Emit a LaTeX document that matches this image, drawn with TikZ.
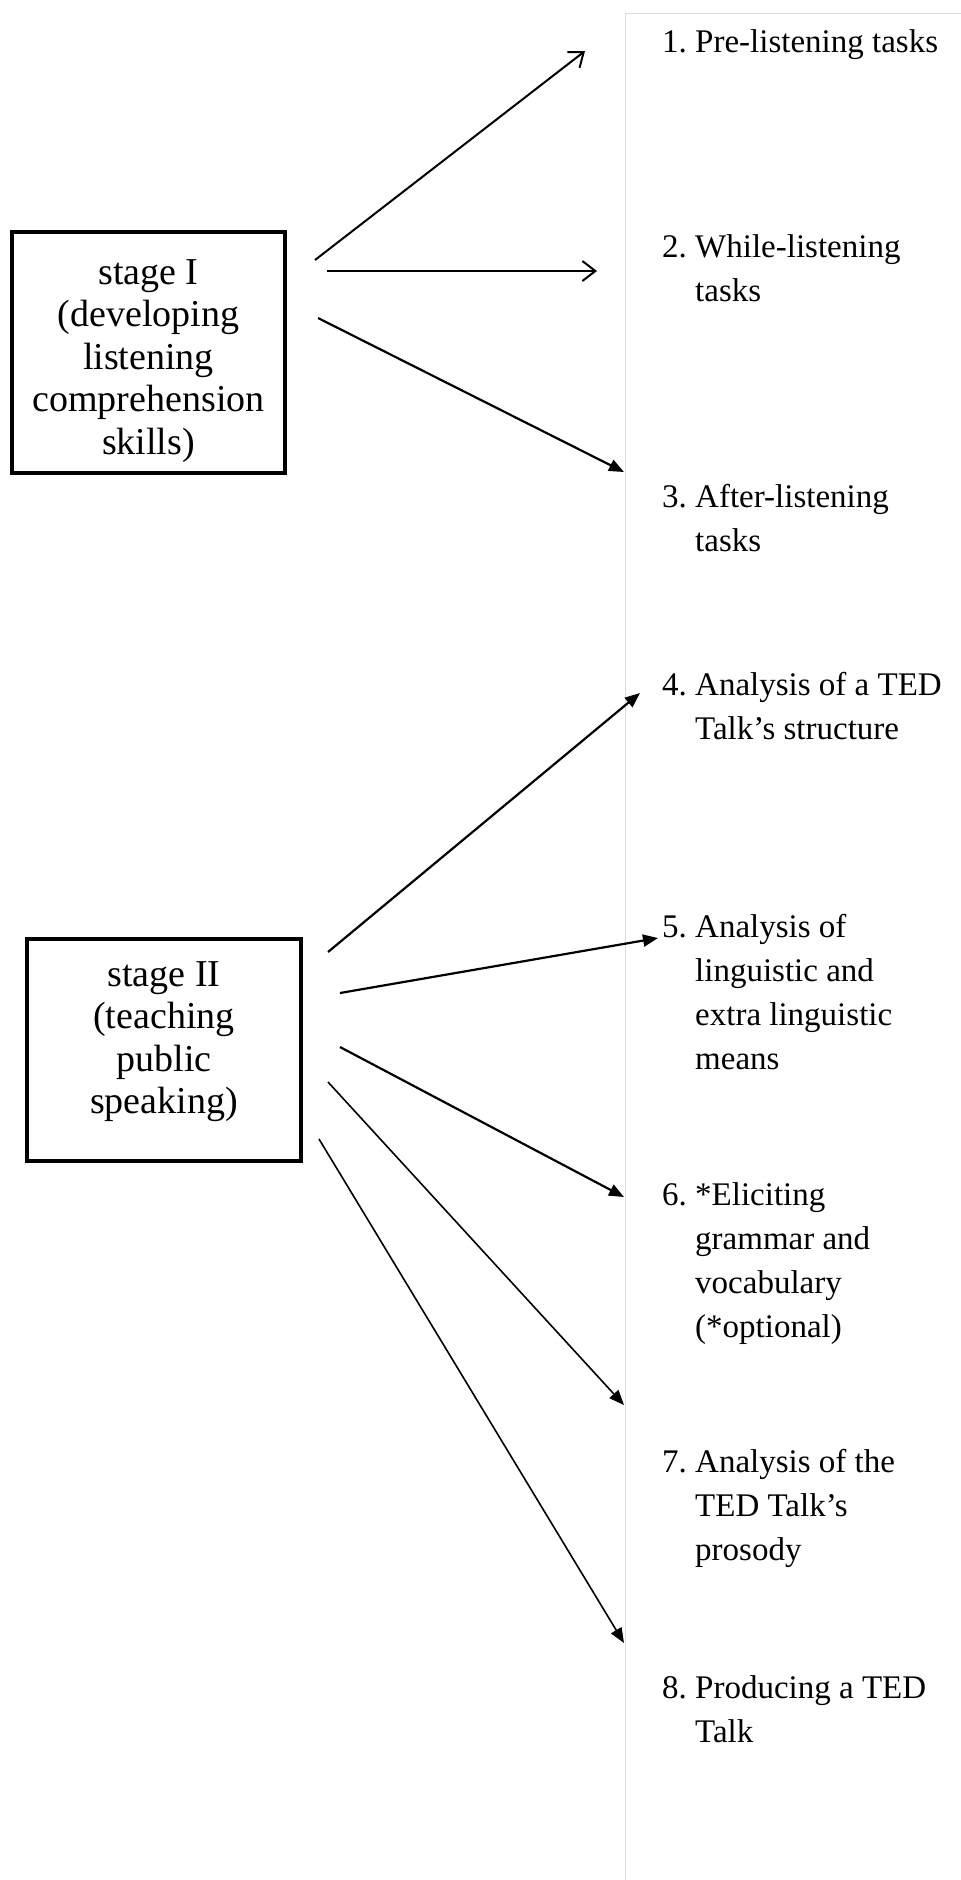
\documentclass[tikz,border=0pt]{standalone}
\usepackage{fontspec}
\setmainfont{Liberation Serif}
\usetikzlibrary{arrows.meta}
\tikzset{
  stagebox/.style={draw=black, line width=4pt, rectangle, inner sep=0pt},
  stagetext/.style={inner sep=0pt, anchor=base, font=\fontsize{38}{42.5}\selectfont},
  itemtext/.style={inner sep=0pt, anchor=base west, font=\fontsize{33}{44}\selectfont},
  openarrow/.style={line width=2pt, -{Straight Barb[length=13pt,width=20pt,line width=2pt]}},
  filledarrow/.style={line width=2.2pt, -{Triangle[length=15pt,width=12pt]}},
  thinarrow/.style={line width=1.6pt, -{Triangle[length=15pt,width=12pt]}},
  frameline/.style={draw=black!14, line width=1pt}
}
\begin{document}
\begin{tikzpicture}[x=1pt, y=-1pt]
\useasboundingbox (0,0) rectangle (961,1880);
\fill[white] (0,0) rectangle (961,1880);
% light frame at the right
\coordinate (fb) at (625,1880);
\coordinate (ft) at (625,13);
\coordinate (fr) at (961,13);
\draw[frameline] (fb) -- (ft) -- (fr);

% stage boxes
\node[stagebox, minimum width=273pt, minimum height=241pt] (s1) at (148.5,352.5) {};
\node[stagetext] (s1t) at (148.5,284) {\begin{tabular}[t]{@{}c@{}}stage I\\(developing\\listening\\comprehension\\skills)\end{tabular}};
\node[stagebox, minimum width=274pt, minimum height=222pt] (s2) at (164,1050) {};
\node[stagetext] (s2t) at (164,986) {\begin{tabular}[t]{@{}c@{}}stage II\\(teaching\\public\\speaking)\end{tabular}};

% items
\node[itemtext] (i1) at (662,52) {\begin{tabular}[t]{@{}p{33pt}@{}l@{}}1. & Pre-listening tasks\end{tabular}};
\node[itemtext] (i2) at (662,257) {\begin{tabular}[t]{@{}p{33pt}@{}l@{}}2. & While-listening\\ & tasks\end{tabular}};
\node[itemtext] (i3) at (662,507) {\begin{tabular}[t]{@{}p{33pt}@{}l@{}}3. & After-listening\\ & tasks\end{tabular}};
\node[itemtext] (i4) at (662,695) {\begin{tabular}[t]{@{}p{33pt}@{}l@{}}4. & Analysis of a TED\\ & Talk’s structure\end{tabular}};
\node[itemtext] (i5) at (662,937) {\begin{tabular}[t]{@{}p{33pt}@{}l@{}}5. & Analysis of\\ & linguistic and\\ & extra linguistic\\ & means\end{tabular}};
\node[itemtext] (i6) at (662,1205) {\begin{tabular}[t]{@{}p{33pt}@{}l@{}}6. & *Eliciting\\ & grammar and\\ & vocabulary\\ & (*optional)\end{tabular}};
\node[itemtext] (i7) at (662,1472) {\begin{tabular}[t]{@{}p{33pt}@{}l@{}}7. & Analysis of the\\ & TED Talk’s\\ & prosody\end{tabular}};
\node[itemtext] (i8) at (662,1698) {\begin{tabular}[t]{@{}p{33pt}@{}l@{}}8. & Producing a TED\\ & Talk\end{tabular}};

% arrow end points
\coordinate (a1s) at (315,260); \coordinate (a1e) at (585,51);
\coordinate (a2s) at (327,271); \coordinate (a2e) at (597,271);
\coordinate (a3s) at (318,318); \coordinate (a3e) at (624,472);
\coordinate (b1s) at (328,952); \coordinate (b1e) at (640,693);
\coordinate (b2s) at (340,993); \coordinate (b2e) at (658,938);
\coordinate (b3s) at (340,1047); \coordinate (b3e) at (624,1197);
\coordinate (b4s) at (328,1082); \coordinate (b4e) at (624,1405);
\coordinate (b5s) at (319,1139); \coordinate (b5e) at (624,1643);

\draw[openarrow] (a1s) -- (a1e);
\draw[openarrow] (a2s) -- (a2e);
\draw[filledarrow] (a3s) -- (a3e);
\draw[filledarrow] (b1s) -- (b1e);
\draw[filledarrow] (b2s) -- (b2e);
\draw[filledarrow] (b3s) -- (b3e);
\draw[thinarrow] (b4s) -- (b4e);
\draw[thinarrow] (b5s) -- (b5e);
\end{tikzpicture}
\end{document}
